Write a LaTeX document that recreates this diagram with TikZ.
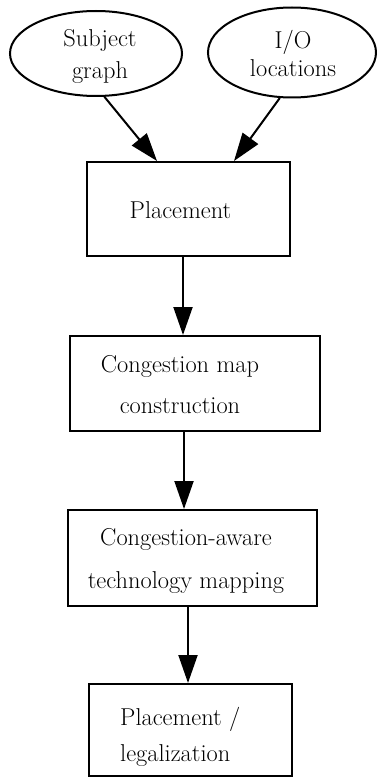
\documentclass[tikz,border=0pt]{standalone}
\usetikzlibrary{arrows.meta,calc,shapes.geometric}
\begin{document}
\begin{tikzpicture}[x=1pt,y=-1pt,
  every node/.style={inner sep=0pt},
  lbl/.style={font=\fontsize{24.4}{#1}\selectfont, align=center, anchor=base},
  lbl/.default=31,
  stepbox/.style={draw, line width=2pt, rectangle},
  oval/.style={draw, line width=2pt, ellipse},
  flow/.style={line width=2pt, -{Triangle[length=28pt,width=19pt]}}]
\useasboundingbox (0,0) rectangle (376,778);

% inputs (labels anchored at the baseline of their last line)
\node[oval, minimum width=172pt, minimum height=85pt] (subj) at (96,53.5) {};
\node[lbl=31.6] (subjtxt) at (100,78.3) {Subject\\graph};
\node[oval, minimum width=168pt, minimum height=90pt] (io) at (292,52.5) {};
\node[lbl=28.5] (iotxt) at (293,76.7) {I/O\\locations};

% processing steps
\node[stepbox, minimum width=203pt, minimum height=94pt] (place) at (188.5,209) {};
\node[lbl] (placetxt) at (180.5,218.5) {Placement};

\node[stepbox, minimum width=250pt, minimum height=95pt] (cmap) at (195,383.5) {};
\node[lbl=40.6] (cmaptxt) at (180,413.3) {Congestion map\\construction};

\node[stepbox, minimum width=249pt, minimum height=96pt] (tmap) at (192.5,558) {};
\node[lbl=42.6] (tmaptxt) at (186,588.3) {Congestion-aware\\technology mapping};

\node[stepbox, minimum width=203pt, minimum height=92pt] (legal) at (190.5,730) {};
\node[lbl=36, align=left, anchor=base west] (legaltxt) at (120,761) {Placement /\\legalization};

% connectors
\draw[flow] (subj.-79.6) -- ($(place.north)+(-31.5,0)$);
\draw[flow] (io.255.2) -- ($(place.north)+(45.5,0)$);
\draw[flow] (place.south -| 183,0) -- (cmap.north -| 183,0);
\draw[flow] (cmap.south -| 184,0) -- (tmap.north -| 184,0);
\draw[flow] (tmap.south -| 188,0) -- (legal.north -| 188,0);
\end{tikzpicture}
\end{document}
